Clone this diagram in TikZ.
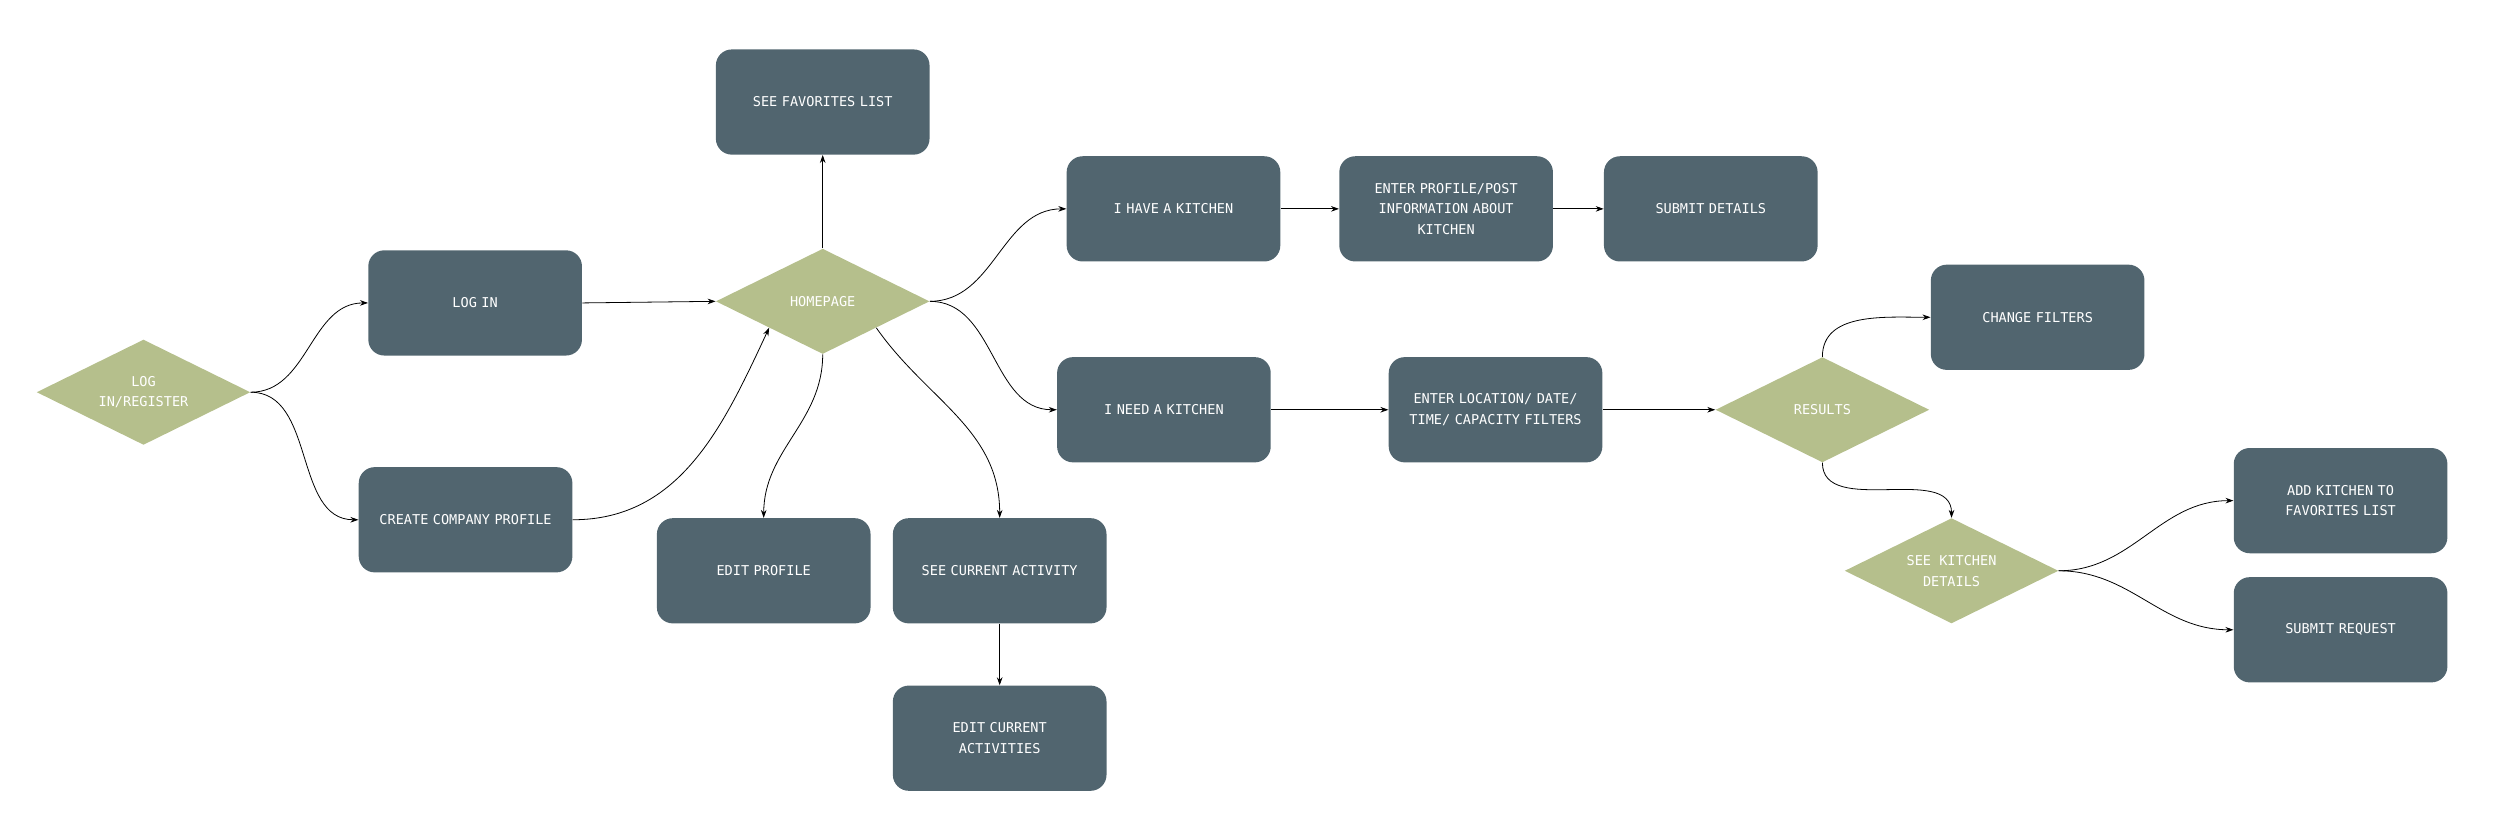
\documentclass[tikz,border=0pt]{standalone}
\usepackage{fontspec}
\setmonofont{DejaVu Sans Mono}
\usetikzlibrary{shapes.geometric,arrows.meta,calc}
\definecolor{boxc}{HTML}{51656F}
\definecolor{diac}{HTML}{B5BF8C}
\begin{document}
\begin{tikzpicture}[x=1pt,y=-1pt,
  box/.style={draw=none,fill=boxc,rounded corners=10pt,minimum width=134pt,minimum height=66pt,text=white,font=\ttfamily\fontsize{8.5}{13}\selectfont,align=center,text width=130pt,inner sep=0pt},
  dia/.style={diamond,draw=none,fill=diac,aspect=2,minimum width=134pt,minimum height=66pt,inner sep=0pt,text=white,font=\ttfamily\fontsize{8.5}{13}\selectfont,align=center},
  ar/.style={-{Stealth[length=5pt,width=3.5pt]},line width=0.5pt,black}]
\useasboundingbox (0,0) rectangle (1568,526);
\node[dia] (lr) at (90,246) {LOG\\IN/REGISTER};
\node[box] (login) at (298,190) {LOG IN};
\node[box] (ccp) at (292,326) {CREATE COMPANY PROFILE};
\node[dia] (home) at (516,189) {HOMEPAGE};
\node[box] (fav) at (516,64) {SEE FAVORITES LIST};
\node[box] (edit) at (479,358) {EDIT PROFILE};
\node[box] (sca) at (627,358) {SEE CURRENT ACTIVITY};
\node[box] (eca) at (627,463) {EDIT CURRENT\\ACTIVITIES};
\node[box] (have) at (736,131) {I HAVE A KITCHEN};
\node[box] (epp) at (907,131) {ENTER PROFILE/POST\\INFORMATION ABOUT\\KITCHEN};
\node[box] (sd) at (1073,131) {SUBMIT DETAILS};
\node[box] (need) at (730,257) {I NEED A KITCHEN};
\node[box] (loc) at (938,257) {ENTER LOCATION/ DATE/\\TIME/ CAPACITY FILTERS};
\node[dia] (res) at (1143,257) {RESULTS};
\node[box] (cf) at (1278,199) {CHANGE FILTERS};
\node[dia] (skd) at (1224,358) {SEE KITCHEN\\DETAILS};
\node[box] (add) at (1468,314) {ADD KITCHEN TO\\FAVORITES LIST};
\node[box] (sr) at (1468,395) {SUBMIT REQUEST};
\draw[ar] (lr.east) to[out=0,in=180] (login.west);
\draw[ar] (lr.east) to[out=0,in=180] (ccp.west);
\draw[ar] (login.east) -- (home.west);
\draw[ar] (ccp.east) to[out=0,in=-115] ($(home.west)!0.5!(home.south)$);
\draw[ar] (home.north) -- (fav.south);
\draw[ar] (home.south) to[out=-90,in=90] (edit.north);
\draw[ar] ($(home.east)!0.5!(home.south)$) to[out=-55,in=90] (sca.north);
\draw[ar] (sca.south) -- (eca.north);
\draw[ar] (home.east) to[out=0,in=180] (have.west);
\draw[ar] (home.east) to[out=0,in=180] (need.west);
\draw[ar] (have.east) -- (epp.west);
\draw[ar] (epp.east) -- (sd.west);
\draw[ar] (need.east) -- (loc.west);
\draw[ar] (loc.east) -- (res.west);
\draw[ar] (res.north) to[out=90,in=180] (cf.west);
\draw[ar] (res.south) to[out=-90,in=90] (skd.north);
\draw[ar] (skd.east) to[out=0,in=180] (add.west);
\draw[ar] (skd.east) to[out=0,in=180] (sr.west);
\end{tikzpicture}
\end{document}
